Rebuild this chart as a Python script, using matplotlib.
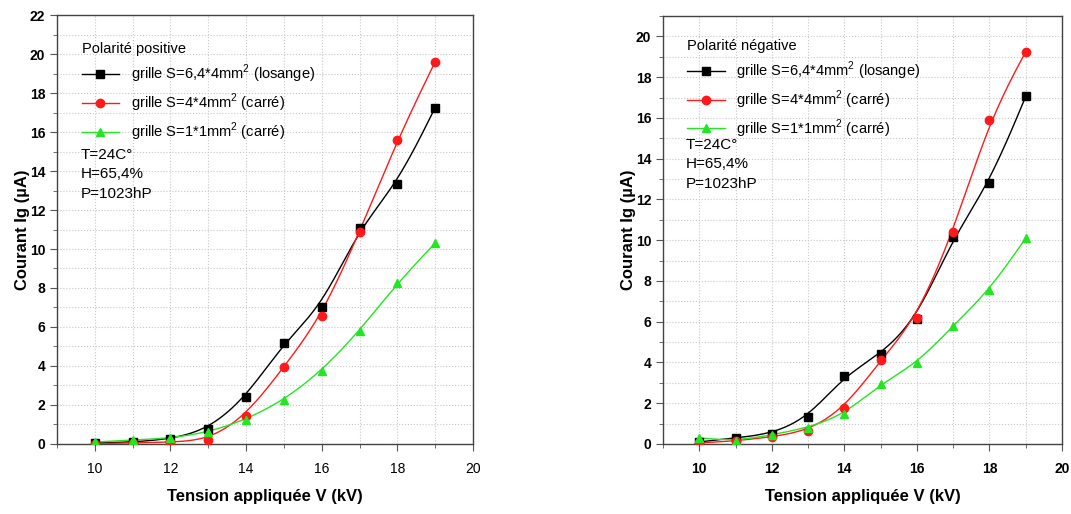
import numpy as np
import matplotlib
matplotlib.use("Agg")
import matplotlib.pyplot as plt
from matplotlib.ticker import MultipleLocator

plt.rcParams["font.family"] = ["Liberation Sans", "DejaVu Sans"]
plt.rcParams["mathtext.fontset"] = "custom"
plt.rcParams["mathtext.rm"] = "Liberation Sans"

# ---------------------------------------------------------------------------
# Data
# ---------------------------------------------------------------------------
tension = [10, 11, 12, 13, 14, 15, 16, 17, 18, 19]

pos_losange = [0.05, 0.1, 0.25, 0.75, 2.4, 5.2, 7.05, 11.1, 13.35, 17.25]
pos_carre_4 = [0.02, 0.05, 0.1, 0.2, 1.45, 3.95, 6.55, 10.85, 15.6, 19.6]
pos_carre_1 = [0.1, 0.2, 0.3, 0.6, 1.25, 2.25, 3.75, 5.8, 8.25, 10.3]

neg_losange = [0.1, 0.3, 0.5, 1.3, 3.35, 4.4, 6.15, 10.15, 12.8, 17.05]
neg_carre_4 = [0.05, 0.15, 0.35, 0.65, 1.75, 4.1, 6.2, 10.4, 15.9, 19.25]
neg_carre_1 = [0.3, 0.15, 0.45, 0.8, 1.45, 2.95, 3.95, 5.8, 7.55, 10.1]

labels = [
    r"grille S=6,4*4mm$^2$ (losange)",
    r"grille S=4*4mm$^2$ (carré)",
    r"grille S=1*1mm$^2$ (carré)",
]
conditions = ["T=24C°", "H=65,4%", "P=1023hP"]


def bspline(x, y, n=40):
    """Clamped uniform cubic B-spline using the points as control points
    (the 'B-spline' connection style of the original software)."""
    px = np.r_[[x[0]] * 2, x, [x[-1]] * 2].astype(float)
    py = np.r_[[y[0]] * 2, y, [y[-1]] * 2].astype(float)
    t = np.linspace(0, 1, n)
    b0 = (1 - t) ** 3 / 6
    b1 = (3 * t ** 3 - 6 * t ** 2 + 4) / 6
    b2 = (-3 * t ** 3 + 3 * t ** 2 + 3 * t + 1) / 6
    b3 = t ** 3 / 6
    xs, ys = [], []
    for i in range(len(px) - 3):
        xs.append(b0 * px[i] + b1 * px[i + 1] + b2 * px[i + 2] + b3 * px[i + 3])
        ys.append(b0 * py[i] + b1 * py[i + 1] + b2 * py[i + 2] + b3 * py[i + 3])
    return np.concatenate(xs), np.concatenate(ys)


COLORS = ["#000000", "#ff1a1a", "#22e622"]
MARKERS = ["s", "o", "^"]


def draw_panel(ax, series, title, ymax, bold_x, leg_anchor, text_y):
    for ys, col, mk, lab in zip(series, COLORS, MARKERS, labels):
        xs, ss = bspline(tension, ys)
        ax.plot(xs, ss, color=col, lw=1.0, zorder=3)
        ax.plot(tension, ys, linestyle="none", marker=mk, color=col,
                markersize=6, zorder=4)
        ax.plot([], [], color=col, lw=1.0, marker=mk, markersize=6, label=lab)

    ax.set_xlim(9, 20)
    ax.set_ylim(0, ymax)
    ax.xaxis.set_major_locator(MultipleLocator(2))
    ax.xaxis.set_minor_locator(MultipleLocator(1))
    ax.yaxis.set_major_locator(MultipleLocator(2))
    ax.yaxis.set_minor_locator(MultipleLocator(1))
    ax.grid(True, which="both", color="#c8c8c8", linestyle=":", lw=0.8)
    ax.set_axisbelow(True)
    ax.tick_params(which="both", direction="out", color="#555555")
    ax.tick_params(which="major", length=5)
    ax.tick_params(which="minor", length=3)
    ax.tick_params(axis="y", labelsize=10)
    ax.tick_params(axis="x", labelsize=10, pad=8)
    for lbl in ax.get_yticklabels():
        lbl.set_fontweight("bold")
    if bold_x:
        for lbl in ax.get_xticklabels():
            lbl.set_fontweight("bold")
    for sp in ax.spines.values():
        sp.set_color("#444444")
        sp.set_linewidth(1.0)

    ax.set_xlabel("Tension appliquée V (kV)", fontsize=12, fontweight="bold",
                  labelpad=9)
    ax.set_ylabel("Courant Ig (µA)", fontsize=12, fontweight="bold",
                  labelpad=0)

    leg = ax.legend(loc="upper left", bbox_to_anchor=leg_anchor, frameon=False,
                    title=title, fontsize=10.5, title_fontsize=10.5,
                    handlelength=2.6, handletextpad=0.8, labelspacing=0.45,
                    borderaxespad=0)
    leg._legend_box.align = "left"
    ax.text(0.057, text_y, "\n".join(conditions), transform=ax.transAxes,
            fontsize=11, va="top", ha="left", linespacing=1.5)


fig = plt.figure(figsize=(10.71, 5.14), dpi=100)
ax1 = fig.add_axes([0.0532, 0.1362, 0.3884, 0.8346])
ax2 = fig.add_axes([0.619, 0.1362, 0.3726, 0.8327])

draw_panel(ax1, [pos_losange, pos_carre_4, pos_carre_1], "Polarité positive",
           22, False, (0.045, 0.95), 0.69)
draw_panel(ax2, [neg_losange, neg_carre_4, neg_carre_1], "Polarité négative",
           21, True, (0.045, 0.96), 0.715)

fig.savefig("out.png", dpi=100, facecolor="white")
